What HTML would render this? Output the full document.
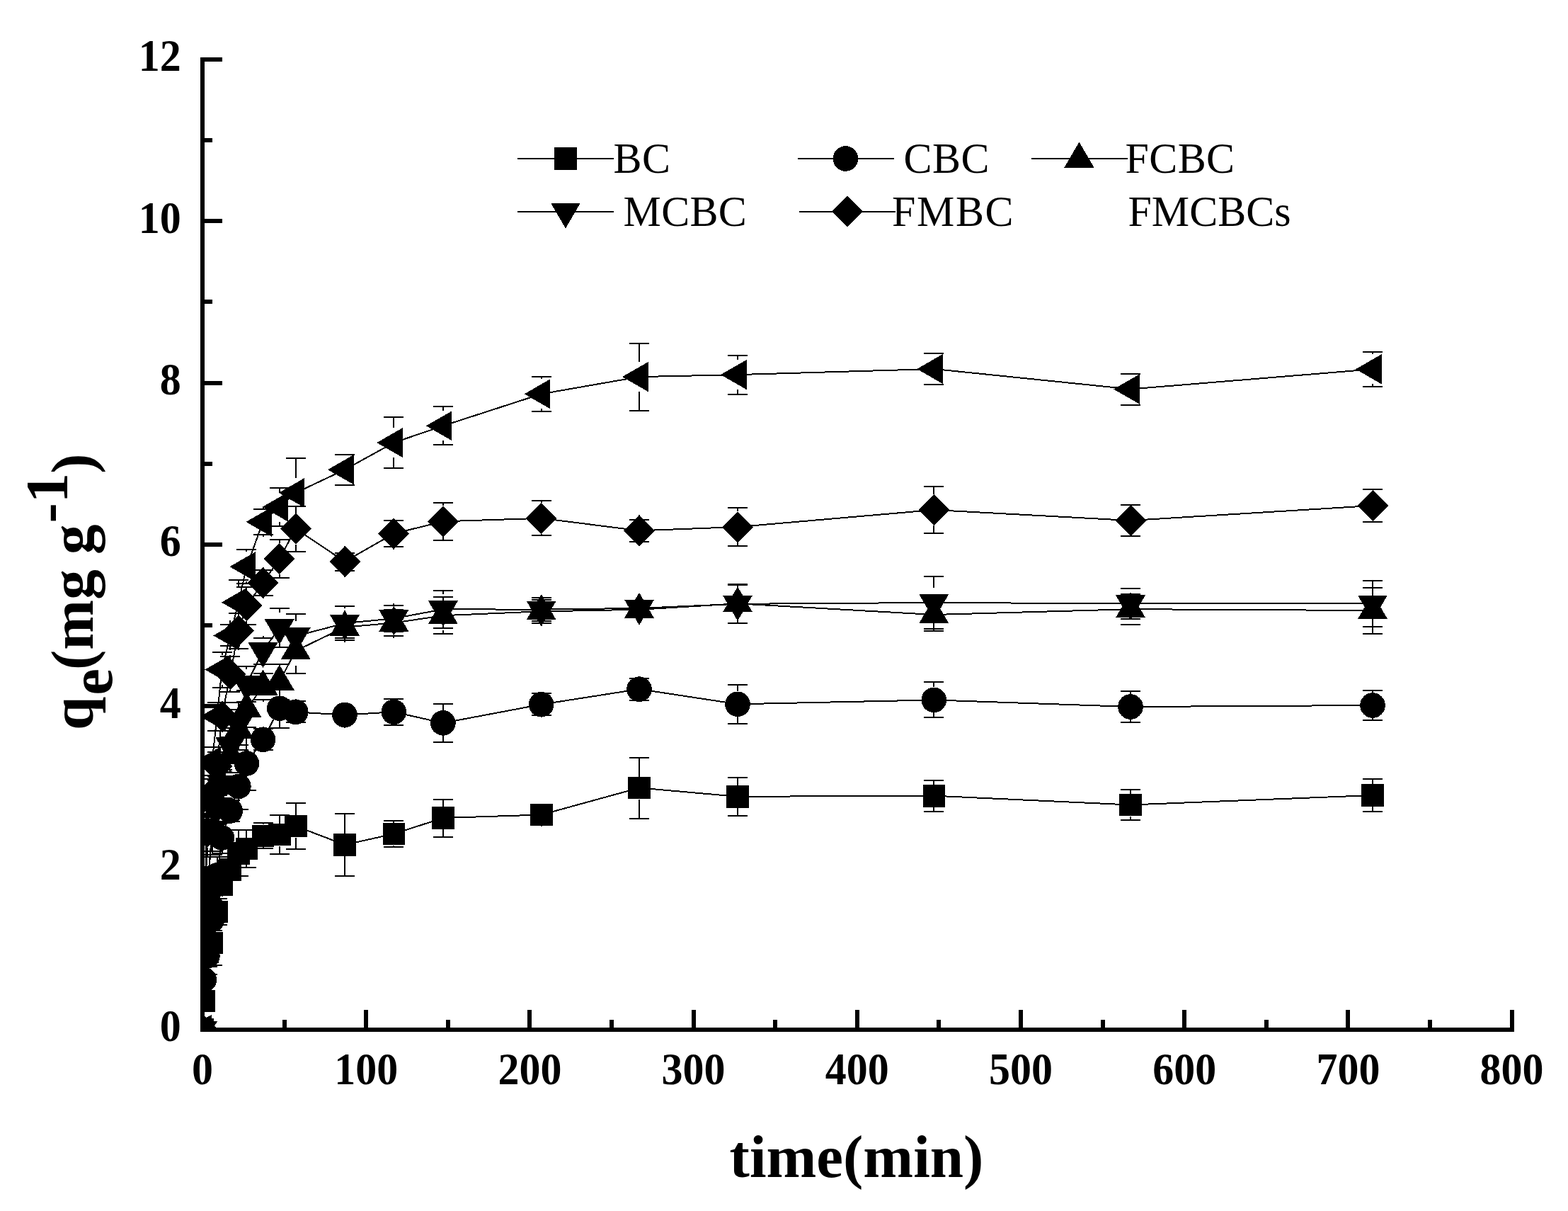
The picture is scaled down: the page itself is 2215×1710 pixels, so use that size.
<!DOCTYPE html>
<html lang="en"><head><meta charset="utf-8"><title>Adsorption kinetics: q_e versus time</title>
<style>
html,body{margin:0;padding:0;background:#fff;}
body{width:2215px;height:1710px;overflow:hidden;position:relative;}
svg{position:absolute;left:0;top:0;display:block;}
text{font-family:"Liberation Serif","Times New Roman",Times,serif;fill:#000;}
.tk{font-size:60px;font-weight:bold;}
.ttl{font-size:85px;font-weight:bold;}
.lg{font-size:60px;}
</style></head><body>
<svg width="2215" height="1710" viewBox="0 0 2215 1710" role="img" aria-label="Adsorption capacity q_e (mg g-1) versus time (min) for BC, CBC, FCBC, MCBC, FMBC and FMCBCs">
<rect width="2215" height="1710" fill="#fff"/>
<defs><clipPath id="plot"><rect x="286" y="0" width="1929" height="1454"/></clipPath></defs>
<g clip-path="url(#plot)" fill="#000" stroke="none" shape-rendering="crispEdges">
<polyline points="286,1454 288.3,1413.3 292.9,1344 299.6,1331.3 306.6,1287.3 313.5,1249.5 325.3,1228 336.9,1204.7 348.4,1198.5 371.5,1180.4 394.7,1178.5 417.8,1166.5 487,1192.9 556.3,1177.5 625.9,1155 764.7,1150.5 903,1112.5 1042,1124.8 1319.3,1123.7 1597,1136.5 1939,1123" fill="none" stroke="#000" stroke-width="2"/>
<path d="M274.3 1403.3h28M274.3 1423.3h28M288.3 1403.3V1397.3M288.3 1429.3V1423.3M278.9 1312.5h28M278.9 1375.5h28M292.9 1312.5V1328M292.9 1360V1375.5M285.6 1299.9h28M285.6 1362.7h28M299.6 1299.9V1315.3M299.6 1347.3V1362.7M292.6 1268.7h28M292.6 1305.9h28M306.6 1268.7V1271.3M306.6 1303.3V1305.9M299.5 1235.5h28M299.5 1263.5h28M313.5 1235.5V1233.5M313.5 1265.5V1263.5M311.3 1214h28M311.3 1242h28M325.3 1214V1212M325.3 1244V1242M322.9 1172.3h28M322.9 1237.1h28M336.9 1172.3V1188.7M336.9 1220.7V1237.1M334.4 1171.8h28M334.4 1225.2h28M348.4 1171.8V1182.5M348.4 1214.5V1225.2M357.5 1162.4h28M357.5 1198.4h28M371.5 1162.4V1164.4M371.5 1196.4V1198.4M380.7 1150.8h28M380.7 1206.2h28M394.7 1150.8V1162.5M394.7 1194.5V1206.2M403.8 1134h28M403.8 1199h28M417.8 1134V1150.5M417.8 1182.5V1199M473 1148.6h28M473 1237.2h28M487 1148.6V1176.9M487 1208.9V1237.2M542.3 1159.2h28M542.3 1195.8h28M556.3 1159.2V1161.5M556.3 1193.5V1195.8M611.9 1128.5h28M611.9 1181.5h28M625.9 1128.5V1139M625.9 1171V1181.5M750.7 1140.5h28M750.7 1160.5h28M764.7 1140.5V1134.5M764.7 1166.5V1160.5M889 1069.5h28M889 1155.5h28M903 1069.5V1096.5M903 1128.5V1155.5M1028 1097.8h28M1028 1151.8h28M1042 1097.8V1108.8M1042 1140.8V1151.8M1305.3 1101.7h28M1305.3 1145.7h28M1319.3 1101.7V1107.7M1319.3 1139.7V1145.7M1583 1115h28M1583 1158h28M1597 1115V1120.5M1597 1152.5V1158M1925 1100h28M1925 1146h28M1939 1100V1107M1939 1139V1146" fill="none" stroke="#000" stroke-width="2"/>
<g><rect x="270.2" y="1438.2" width="31.6" height="31.6"/><rect x="272.5" y="1397.5" width="31.6" height="31.6"/><rect x="277.1" y="1328.2" width="31.6" height="31.6"/><rect x="283.8" y="1315.5" width="31.6" height="31.6"/><rect x="290.8" y="1271.5" width="31.6" height="31.6"/><rect x="297.7" y="1233.7" width="31.6" height="31.6"/><rect x="309.5" y="1212.2" width="31.6" height="31.6"/><rect x="321.1" y="1188.9" width="31.6" height="31.6"/><rect x="332.6" y="1182.7" width="31.6" height="31.6"/><rect x="355.7" y="1164.6" width="31.6" height="31.6"/><rect x="378.9" y="1162.7" width="31.6" height="31.6"/><rect x="402" y="1150.7" width="31.6" height="31.6"/><rect x="471.2" y="1177.1" width="31.6" height="31.6"/><rect x="540.5" y="1161.7" width="31.6" height="31.6"/><rect x="610.1" y="1139.2" width="31.6" height="31.6"/><rect x="748.9" y="1134.7" width="31.6" height="31.6"/><rect x="887.2" y="1096.7" width="31.6" height="31.6"/><rect x="1026.2" y="1109" width="31.6" height="31.6"/><rect x="1303.5" y="1107.9" width="31.6" height="31.6"/><rect x="1581.2" y="1120.7" width="31.6" height="31.6"/><rect x="1923.2" y="1107.2" width="31.6" height="31.6"/></g>
<polyline points="286,1454 288.3,1383.6 292.9,1350 299.6,1298.6 306.6,1236 313.5,1183 325.3,1145 336.9,1110.4 348.4,1078 371.5,1044.3 394.7,1000.2 417.8,1005.4 487,1009.5 556.3,1005.3 625.9,1020.9 764.7,994.7 903,973.1 1042,994.3 1319.3,988.4 1597,998 1939,996" fill="none" stroke="#000" stroke-width="2"/>
<path d="M274.3 1373.6h28M274.3 1393.6h28M288.3 1373.6V1365.6M288.3 1401.6V1393.6M278.9 1335h28M278.9 1365h28M292.9 1335V1332M292.9 1368V1365M285.6 1283.6h28M285.6 1313.6h28M299.6 1283.6V1280.6M299.6 1316.6V1313.6M292.6 1210h28M292.6 1262h28M306.6 1210V1218M306.6 1254V1262M299.5 1161.5h28M299.5 1204.5h28M313.5 1161.5V1165M313.5 1201V1204.5M311.3 1130h28M311.3 1160h28M325.3 1130V1127M325.3 1163V1160M322.9 1078h28M322.9 1142.8h28M336.9 1078V1092.4M336.9 1128.4V1142.8M334.4 1040.2h28M334.4 1115.8h28M348.4 1040.2V1060M348.4 1096V1115.8M357.5 1029.3h28M357.5 1059.3h28M371.5 1029.3V1026.3M371.5 1062.3V1059.3M380.7 972.7h28M380.7 1027.7h28M394.7 972.7V982.2M394.7 1018.2V1027.7M403.8 990.4h28M403.8 1020.4h28M417.8 990.4V987.4M417.8 1023.4V1020.4M473 999.5h28M473 1019.5h28M487 999.5V991.5M487 1027.5V1019.5M542.3 986.5h28M542.3 1024.1h28M556.3 986.5V987.3M556.3 1023.3V1024.1M611.9 994.3h28M611.9 1047.5h28M625.9 994.3V1002.9M625.9 1038.9V1047.5M750.7 979h28M750.7 1010.4h28M764.7 979V976.7M764.7 1012.7V1010.4M889 957.6h28M889 988.6h28M903 957.6V955.1M903 991.1V988.6M1028 966.7h28M1028 1021.9h28M1042 966.7V976.3M1042 1012.3V1021.9M1305.3 963.4h28M1305.3 1013.4h28M1319.3 963.4V970.4M1319.3 1006.4V1013.4M1583 976h28M1583 1020h28M1597 976V980M1597 1016V1020M1925 975h28M1925 1017h28M1939 975V978M1939 1014V1017" fill="none" stroke="#000" stroke-width="2"/>
<g><circle cx="286" cy="1454" r="17.8"/><circle cx="288.3" cy="1383.6" r="17.8"/><circle cx="292.9" cy="1350" r="17.8"/><circle cx="299.6" cy="1298.6" r="17.8"/><circle cx="306.6" cy="1236" r="17.8"/><circle cx="313.5" cy="1183" r="17.8"/><circle cx="325.3" cy="1145" r="17.8"/><circle cx="336.9" cy="1110.4" r="17.8"/><circle cx="348.4" cy="1078" r="17.8"/><circle cx="371.5" cy="1044.3" r="17.8"/><circle cx="394.7" cy="1000.2" r="17.8"/><circle cx="417.8" cy="1005.4" r="17.8"/><circle cx="487" cy="1009.5" r="17.8"/><circle cx="556.3" cy="1005.3" r="17.8"/><circle cx="625.9" cy="1020.9" r="17.8"/><circle cx="764.7" cy="994.7" r="17.8"/><circle cx="903" cy="973.1" r="17.8"/><circle cx="1042" cy="994.3" r="17.8"/><circle cx="1319.3" cy="988.4" r="17.8"/><circle cx="1597" cy="998" r="17.8"/><circle cx="1939" cy="996" r="17.8"/></g>
<polyline points="286,1454 288.3,1330 292.9,1260 299.6,1175 306.6,1143 313.5,1110 325.3,1066 336.9,1030.5 348.4,1001 371.5,969.5 394.7,962.5 417.8,919 487,885.6 556.3,879.6 625.9,869.2 764.7,863.3 903,860.8 1042,852.3 1319.3,868 1597,860.2 1939,862" fill="none" stroke="#000" stroke-width="2"/>
<path d="M274.3 1320h28M274.3 1340h28M288.3 1320V1309M288.3 1351V1340M278.9 1240h28M278.9 1280h28M292.9 1240V1239M292.9 1281V1280M285.6 1143h28M285.6 1207h28M299.6 1143V1154M299.6 1196V1207M292.6 1123h28M292.6 1163h28M306.6 1123V1122M306.6 1164V1163M299.5 1090h28M299.5 1130h28M313.5 1090V1089M313.5 1131V1130M311.3 1041h28M311.3 1091h28M325.3 1041V1045M325.3 1087V1091M322.9 1001.7h28M322.9 1059.3h28M336.9 1001.7V1009.5M336.9 1051.5V1059.3M334.4 974.7h28M334.4 1027.3h28M348.4 974.7V980M348.4 1022V1027.3M357.5 951.3h28M357.5 987.7h28M371.5 951.3V948.5M371.5 990.5V987.7M380.7 937.5h28M380.7 987.5h28M394.7 937.5V941.5M394.7 983.5V987.5M403.8 887.4h28M403.8 950.6h28M417.8 887.4V898M417.8 940V950.6M473 870.5h28M473 900.7h28M487 870.5V864.6M487 906.6V900.7M542.3 861.3h28M542.3 897.9h28M556.3 861.3V858.6M556.3 900.6V897.9M611.9 843h28M611.9 895.4h28M625.9 843V848.2M625.9 890.2V895.4M750.7 846.5h28M750.7 880.1h28M764.7 846.5V842.3M764.7 884.3V880.1M889 850.8h28M889 870.8h28M903 850.8V839.8M903 881.8V870.8M1028 825h28M1028 879.6h28M1042 825V831.3M1042 873.3V879.6M1305.3 845h28M1305.3 891h28M1319.3 845V847M1319.3 889V891M1583 838.6h28M1583 881.8h28M1597 838.6V839.2M1597 881.2V881.8M1925 829.5h28M1925 894.5h28M1939 829.5V841M1939 883V894.5" fill="none" stroke="#000" stroke-width="2"/>
<g><polygon points="286,1430 307,1466 265,1466"/><polygon points="288.3,1306 309.3,1342 267.3,1342"/><polygon points="292.9,1236 313.9,1272 271.9,1272"/><polygon points="299.6,1151 320.6,1187 278.6,1187"/><polygon points="306.6,1119 327.6,1155 285.6,1155"/><polygon points="313.5,1086 334.5,1122 292.5,1122"/><polygon points="325.3,1042 346.3,1078 304.3,1078"/><polygon points="336.9,1006.5 357.9,1042.5 315.9,1042.5"/><polygon points="348.4,977 369.4,1013 327.4,1013"/><polygon points="371.5,945.5 392.5,981.5 350.5,981.5"/><polygon points="394.7,938.5 415.7,974.5 373.7,974.5"/><polygon points="417.8,895 438.8,931 396.8,931"/><polygon points="487,861.6 508,897.6 466,897.6"/><polygon points="556.3,855.6 577.3,891.6 535.3,891.6"/><polygon points="625.9,845.2 646.9,881.2 604.9,881.2"/><polygon points="764.7,839.3 785.7,875.3 743.7,875.3"/><polygon points="903,836.8 924,872.8 882,872.8"/><polygon points="1042,828.3 1063,864.3 1021,864.3"/><polygon points="1319.3,844 1340.3,880 1298.3,880"/><polygon points="1597,836.2 1618,872.2 1576,872.2"/><polygon points="1939,838 1960,874 1918,874"/></g>
<polyline points="286,1454 288.3,1340 292.9,1255 299.6,1172 306.6,1140 313.5,1107 325.3,1053 336.9,1022 348.4,966 371.5,919.2 394.7,886.4 417.8,898.2 487,880.1 556.3,873.3 625.9,860.4 764.7,860.6 903,858.9 1042,852.8 1319.3,851 1597,852.3 1939,852.5" fill="none" stroke="#000" stroke-width="2"/>
<path d="M274.3 1330h28M274.3 1350h28M288.3 1330V1319M288.3 1361V1350M278.9 1235h28M278.9 1275h28M292.9 1235V1234M292.9 1276V1275M285.6 1142h28M285.6 1202h28M299.6 1142V1151M299.6 1193V1202M292.6 1120h28M292.6 1160h28M306.6 1120V1119M306.6 1161V1160M299.5 1087h28M299.5 1127h28M313.5 1087V1086M313.5 1128V1127M311.3 1028h28M311.3 1078h28M325.3 1028V1032M325.3 1074V1078M322.9 992h28M322.9 1052h28M336.9 992V1001M336.9 1043V1052M334.4 941h28M334.4 991h28M348.4 941V945M348.4 987V991M357.5 900.9h28M357.5 937.5h28M371.5 900.9V898.2M371.5 940.2V937.5M380.7 859h28M380.7 913.8h28M394.7 859V865.4M394.7 907.4V913.8M403.8 866.9h28M403.8 929.5h28M417.8 866.9V877.2M417.8 919.2V929.5M473 855.9h28M473 904.3h28M487 855.9V859.1M487 901.1V904.3M542.3 854.8h28M542.3 891.8h28M556.3 854.8V852.3M556.3 894.3V891.8M611.9 833.6h28M611.9 887.2h28M625.9 833.6V839.4M625.9 881.4V887.2M750.7 844.4h28M750.7 876.8h28M764.7 844.4V839.6M764.7 881.6V876.8M889 848.9h28M889 868.9h28M903 848.9V837.9M903 879.9V868.9M1028 825.5h28M1028 880.1h28M1042 825.5V831.8M1042 873.8V880.1M1305.3 813.6h28M1305.3 888.4h28M1319.3 813.6V830M1319.3 872V888.4M1583 830.7h28M1583 873.9h28M1597 830.7V831.3M1597 873.3V873.9M1925 820h28M1925 885h28M1939 820V831.5M1939 873.5V885" fill="none" stroke="#000" stroke-width="2"/>
<g><polygon points="286,1478 307,1442 265,1442"/><polygon points="288.3,1364 309.3,1328 267.3,1328"/><polygon points="292.9,1279 313.9,1243 271.9,1243"/><polygon points="299.6,1196 320.6,1160 278.6,1160"/><polygon points="306.6,1164 327.6,1128 285.6,1128"/><polygon points="313.5,1131 334.5,1095 292.5,1095"/><polygon points="325.3,1077 346.3,1041 304.3,1041"/><polygon points="336.9,1046 357.9,1010 315.9,1010"/><polygon points="348.4,990 369.4,954 327.4,954"/><polygon points="371.5,943.2 392.5,907.2 350.5,907.2"/><polygon points="394.7,910.4 415.7,874.4 373.7,874.4"/><polygon points="417.8,922.2 438.8,886.2 396.8,886.2"/><polygon points="487,904.1 508,868.1 466,868.1"/><polygon points="556.3,897.3 577.3,861.3 535.3,861.3"/><polygon points="625.9,884.4 646.9,848.4 604.9,848.4"/><polygon points="764.7,884.6 785.7,848.6 743.7,848.6"/><polygon points="903,882.9 924,846.9 882,846.9"/><polygon points="1042,876.8 1063,840.8 1021,840.8"/><polygon points="1319.3,875 1340.3,839 1298.3,839"/><polygon points="1597,876.3 1618,840.3 1576,840.3"/><polygon points="1939,876.5 1960,840.5 1918,840.5"/></g>
<polyline points="286,1454 288.3,1330 292.9,1175 299.6,1120 306.6,1082 313.5,1011.5 325.3,952.3 336.9,890.9 348.4,855.4 371.5,822.9 394.7,789 417.8,746.7 487,793 556.3,753.5 625.9,736.3 764.7,731.8 903,749.3 1042,744.1 1319.3,720 1597,735 1939,714" fill="none" stroke="#000" stroke-width="2"/>
<path d="M274.3 1320h28M274.3 1340h28M288.3 1320V1308M288.3 1352V1340M278.9 1140h28M278.9 1210h28M292.9 1140V1153M292.9 1197V1210M285.6 1100h28M285.6 1140h28M299.6 1100V1098M299.6 1142V1140M292.6 1062h28M292.6 1102h28M306.6 1062V1060M306.6 1104V1102M299.5 991.5h28M299.5 1031.5h28M313.5 991.5V989.5M313.5 1033.5V1031.5M311.3 927.3h28M311.3 977.3h28M325.3 927.3V930.3M325.3 974.3V977.3M322.9 865.9h28M322.9 915.9h28M336.9 865.9V868.9M336.9 912.9V915.9M334.4 828.8h28M334.4 882h28M348.4 828.8V833.4M348.4 877.4V882M357.5 804.8h28M357.5 841h28M371.5 804.8V800.9M371.5 844.9V841M380.7 762h28M380.7 816h28M394.7 762V767M394.7 811V816M403.8 714.7h28M403.8 778.7h28M417.8 714.7V724.7M417.8 768.7V778.7M473 780.5h28M473 805.5h28M487 780.5V771M487 815V805.5M542.3 735h28M542.3 772h28M556.3 735V731.5M556.3 775.5V772M611.9 709.7h28M611.9 762.9h28M625.9 709.7V714.3M625.9 758.3V762.9M750.7 707.2h28M750.7 756.4h28M764.7 707.2V709.8M764.7 753.8V756.4M889 733.8h28M889 764.8h28M903 733.8V727.3M903 771.3V764.8M1028 717.1h28M1028 771.1h28M1042 717.1V722.1M1042 766.1V771.1M1305.3 686.6h28M1305.3 753.4h28M1319.3 686.6V698M1319.3 742V753.4M1583 713.4h28M1583 756.6h28M1925 691h28M1925 737h28M1939 691V692M1939 736V737" fill="none" stroke="#000" stroke-width="2"/>
<g><polygon points="286,1432 308,1454 286,1476 264,1454"/><polygon points="288.3,1308 310.3,1330 288.3,1352 266.3,1330"/><polygon points="292.9,1153 314.9,1175 292.9,1197 270.9,1175"/><polygon points="299.6,1098 321.6,1120 299.6,1142 277.6,1120"/><polygon points="306.6,1060 328.6,1082 306.6,1104 284.6,1082"/><polygon points="313.5,989.5 335.5,1011.5 313.5,1033.5 291.5,1011.5"/><polygon points="325.3,930.3 347.3,952.3 325.3,974.3 303.3,952.3"/><polygon points="336.9,868.9 358.9,890.9 336.9,912.9 314.9,890.9"/><polygon points="348.4,833.4 370.4,855.4 348.4,877.4 326.4,855.4"/><polygon points="371.5,800.9 393.5,822.9 371.5,844.9 349.5,822.9"/><polygon points="394.7,767 416.7,789 394.7,811 372.7,789"/><polygon points="417.8,724.7 439.8,746.7 417.8,768.7 395.8,746.7"/><polygon points="487,771 509,793 487,815 465,793"/><polygon points="556.3,731.5 578.3,753.5 556.3,775.5 534.3,753.5"/><polygon points="625.9,714.3 647.9,736.3 625.9,758.3 603.9,736.3"/><polygon points="764.7,709.8 786.7,731.8 764.7,753.8 742.7,731.8"/><polygon points="903,727.3 925,749.3 903,771.3 881,749.3"/><polygon points="1042,722.1 1064,744.1 1042,766.1 1020,744.1"/><polygon points="1319.3,698 1341.3,720 1319.3,742 1297.3,720"/><polygon points="1597,713 1619,735 1597,757 1575,735"/><polygon points="1939,692 1961,714 1939,736 1917,714"/></g>
<polyline points="286,1454 288.3,1310 292.9,1134 299.6,1075 306.6,1011.7 313.5,945.5 325.3,897.4 336.9,850.6 348.4,800.2 371.5,736.9 394.7,715.8 417.8,695.9 487,663.2 556.3,625.1 625.9,601.3 764.7,556.3 903,532.1 1042,529.1 1319.3,521 1597,549.5 1939,521.3" fill="none" stroke="#000" stroke-width="2"/>
<path d="M274.3 1300h28M274.3 1320h28M288.3 1300V1289M288.3 1331V1320M278.9 1114h28M278.9 1154h28M292.9 1114V1113M292.9 1155V1154M285.6 1055h28M285.6 1095h28M299.6 1055V1054M299.6 1096V1095M292.6 991.7h28M292.6 1031.7h28M306.6 991.7V990.7M306.6 1032.7V1031.7M299.5 920.5h28M299.5 970.5h28M313.5 920.5V924.5M313.5 966.5V970.5M311.3 882.4h28M311.3 912.4h28M325.3 882.4V876.4M325.3 918.4V912.4M322.9 819.1h28M322.9 882.1h28M336.9 819.1V829.6M336.9 871.6V882.1M334.4 776.2h28M334.4 824.2h28M348.4 776.2V779.2M348.4 821.2V824.2M357.5 718.9h28M357.5 754.9h28M371.5 718.9V715.9M371.5 757.9V754.9M380.7 688.8h28M380.7 742.8h28M394.7 688.8V694.8M394.7 736.8V742.8M403.8 646.9h28M403.8 744.9h28M417.8 646.9V674.9M417.8 716.9V744.9M473 641.9h28M473 684.5h28M542.3 589.1h28M542.3 661.1h28M556.3 589.1V604.1M556.3 646.1V661.1M611.9 574.3h28M611.9 628.3h28M625.9 574.3V580.3M625.9 622.3V628.3M750.7 531.9h28M750.7 580.7h28M764.7 531.9V535.3M764.7 577.3V580.7M889 484.6h28M889 579.6h28M903 484.6V511.1M903 553.1V579.6M1028 501.7h28M1028 556.5h28M1042 501.7V508.1M1042 550.1V556.5M1305.3 498.8h28M1305.3 543.2h28M1319.3 498.8V500M1319.3 542V543.2M1583 527.5h28M1583 571.5h28M1597 527.5V528.5M1597 570.5V571.5M1925 496.9h28M1925 545.7h28M1939 496.9V500.3M1939 542.3V545.7" fill="none" stroke="#000" stroke-width="2"/>
<g><polygon points="262,1454 298.5,1433 298.5,1475"/><polygon points="264.3,1310 300.8,1289 300.8,1331"/><polygon points="268.9,1134 305.4,1113 305.4,1155"/><polygon points="275.6,1075 312.1,1054 312.1,1096"/><polygon points="282.6,1011.7 319.1,990.7 319.1,1032.7"/><polygon points="289.5,945.5 326,924.5 326,966.5"/><polygon points="301.3,897.4 337.8,876.4 337.8,918.4"/><polygon points="312.9,850.6 349.4,829.6 349.4,871.6"/><polygon points="324.4,800.2 360.9,779.2 360.9,821.2"/><polygon points="347.5,736.9 384,715.9 384,757.9"/><polygon points="370.7,715.8 407.2,694.8 407.2,736.8"/><polygon points="393.8,695.9 430.3,674.9 430.3,716.9"/><polygon points="463,663.2 499.5,642.2 499.5,684.2"/><polygon points="532.3,625.1 568.8,604.1 568.8,646.1"/><polygon points="601.9,601.3 638.4,580.3 638.4,622.3"/><polygon points="740.7,556.3 777.2,535.3 777.2,577.3"/><polygon points="879,532.1 915.5,511.1 915.5,553.1"/><polygon points="1018,529.1 1054.5,508.1 1054.5,550.1"/><polygon points="1295.3,521 1331.8,500 1331.8,542"/><polygon points="1573,549.5 1609.5,528.5 1609.5,570.5"/><polygon points="1915,521.3 1951.5,500.3 1951.5,542.3"/></g>
</g>
<g fill="#000" shape-rendering="crispEdges">
<rect x="283" y="81" width="6" height="1376"/>
<rect x="283" y="1451" width="1856" height="6"/>
<rect x="289" y="1451" width="25" height="6"/>
<rect x="289" y="1337" width="11" height="6"/>
<rect x="289" y="1223" width="25" height="6"/>
<rect x="289" y="1108" width="11" height="6"/>
<rect x="289" y="994" width="25" height="6"/>
<rect x="289" y="880" width="11" height="6"/>
<rect x="289" y="766" width="25" height="6"/>
<rect x="289" y="652" width="11" height="6"/>
<rect x="289" y="538" width="25" height="6"/>
<rect x="289" y="423" width="11" height="6"/>
<rect x="289" y="309" width="25" height="6"/>
<rect x="289" y="195" width="11" height="6"/>
<rect x="289" y="81" width="25" height="6"/>
<rect x="283" y="1426" width="6" height="25"/>
<rect x="399" y="1440" width="6" height="11"/>
<rect x="514" y="1426" width="6" height="25"/>
<rect x="630" y="1440" width="6" height="11"/>
<rect x="745" y="1426" width="6" height="25"/>
<rect x="861" y="1440" width="6" height="11"/>
<rect x="977" y="1426" width="6" height="25"/>
<rect x="1092" y="1440" width="6" height="11"/>
<rect x="1208" y="1426" width="6" height="25"/>
<rect x="1323" y="1440" width="6" height="11"/>
<rect x="1439" y="1426" width="6" height="25"/>
<rect x="1555" y="1440" width="6" height="11"/>
<rect x="1670" y="1426" width="6" height="25"/>
<rect x="1786" y="1440" width="6" height="11"/>
<rect x="1901" y="1426" width="6" height="25"/>
<rect x="2017" y="1440" width="6" height="11"/>
<rect x="2133" y="1426" width="6" height="25"/>
</g>
<g class="tk" text-anchor="middle">
<text transform="translate(286 1530.7) scale(1 1.055)">0</text>
<text transform="translate(517.2 1530.7) scale(1 1.055)">100</text>
<text transform="translate(748.4 1530.7) scale(1 1.055)">200</text>
<text transform="translate(979.6 1530.7) scale(1 1.055)">300</text>
<text transform="translate(1210.8 1530.7) scale(1 1.055)">400</text>
<text transform="translate(1442 1530.7) scale(1 1.055)">500</text>
<text transform="translate(1673.2 1530.7) scale(1 1.055)">600</text>
<text transform="translate(1904.4 1530.7) scale(1 1.055)">700</text>
<text transform="translate(2135.6 1530.7) scale(1 1.055)">800</text>
</g>
<g class="tk" text-anchor="end">
<text transform="translate(255.7 1470.2) scale(1 1.055)">0</text>
<text transform="translate(255.7 1241.9) scale(1 1.055)">2</text>
<text transform="translate(255.7 1013.5) scale(1 1.055)">4</text>
<text transform="translate(255.7 785.2) scale(1 1.055)">6</text>
<text transform="translate(255.7 556.8) scale(1 1.055)">8</text>
<text transform="translate(255.7 328.5) scale(1 1.055)">10</text>
<text transform="translate(255.7 100.2) scale(1 1.055)">12</text>
</g>
<text class="ttl" x="1210" y="1662" text-anchor="middle">time(min)</text>
<text class="ttl" transform="translate(131 1031) rotate(-90)">q<tspan dy="26.5" dx="2">e</tspan><tspan dy="-26.5" dx="-2">(mg g</tspan><tspan dy="-36" dx="2">-1</tspan><tspan dy="36" dx="-1">)</tspan></text>
<g fill="#000" shape-rendering="crispEdges">
<path d="M731 224H867M1127 224H1263M1457 224H1593M731 299H867M1129 299H1265" fill="none" stroke="#000" stroke-width="2"/>
<rect x="783.2" y="208.2" width="31.6" height="31.6"/>
<circle cx="1194.5" cy="224" r="17.8"/>
<polygon points="1524.5,200.5 1545.5,236.5 1503.5,236.5"/>
<polygon points="799,322.5 820,286.5 778,286.5"/>
<polygon points="1196.8,276.5 1218.8,298.5 1196.8,320.5 1174.8,298.5"/>
</g>
<g class="lg">
<text transform="translate(866.5 244) scale(1 1.025)" letter-spacing="0.4">BC</text>
<text transform="translate(1276.6 244) scale(1 1.025)" letter-spacing="0.4">CBC</text>
<text transform="translate(1589.5 244) scale(1 1.025)" letter-spacing="0.4">FCBC</text>
<text transform="translate(880.5 318.5) scale(1 1.025)" letter-spacing="0.3">MCBC</text>
<text transform="translate(1260 318.5) scale(1 1.025)" letter-spacing="1.6">FMBC</text>
<text transform="translate(1593.5 318.5) scale(1 1.025)" letter-spacing="0">FMCBCs</text>
</g>
</svg>
</body></html>
